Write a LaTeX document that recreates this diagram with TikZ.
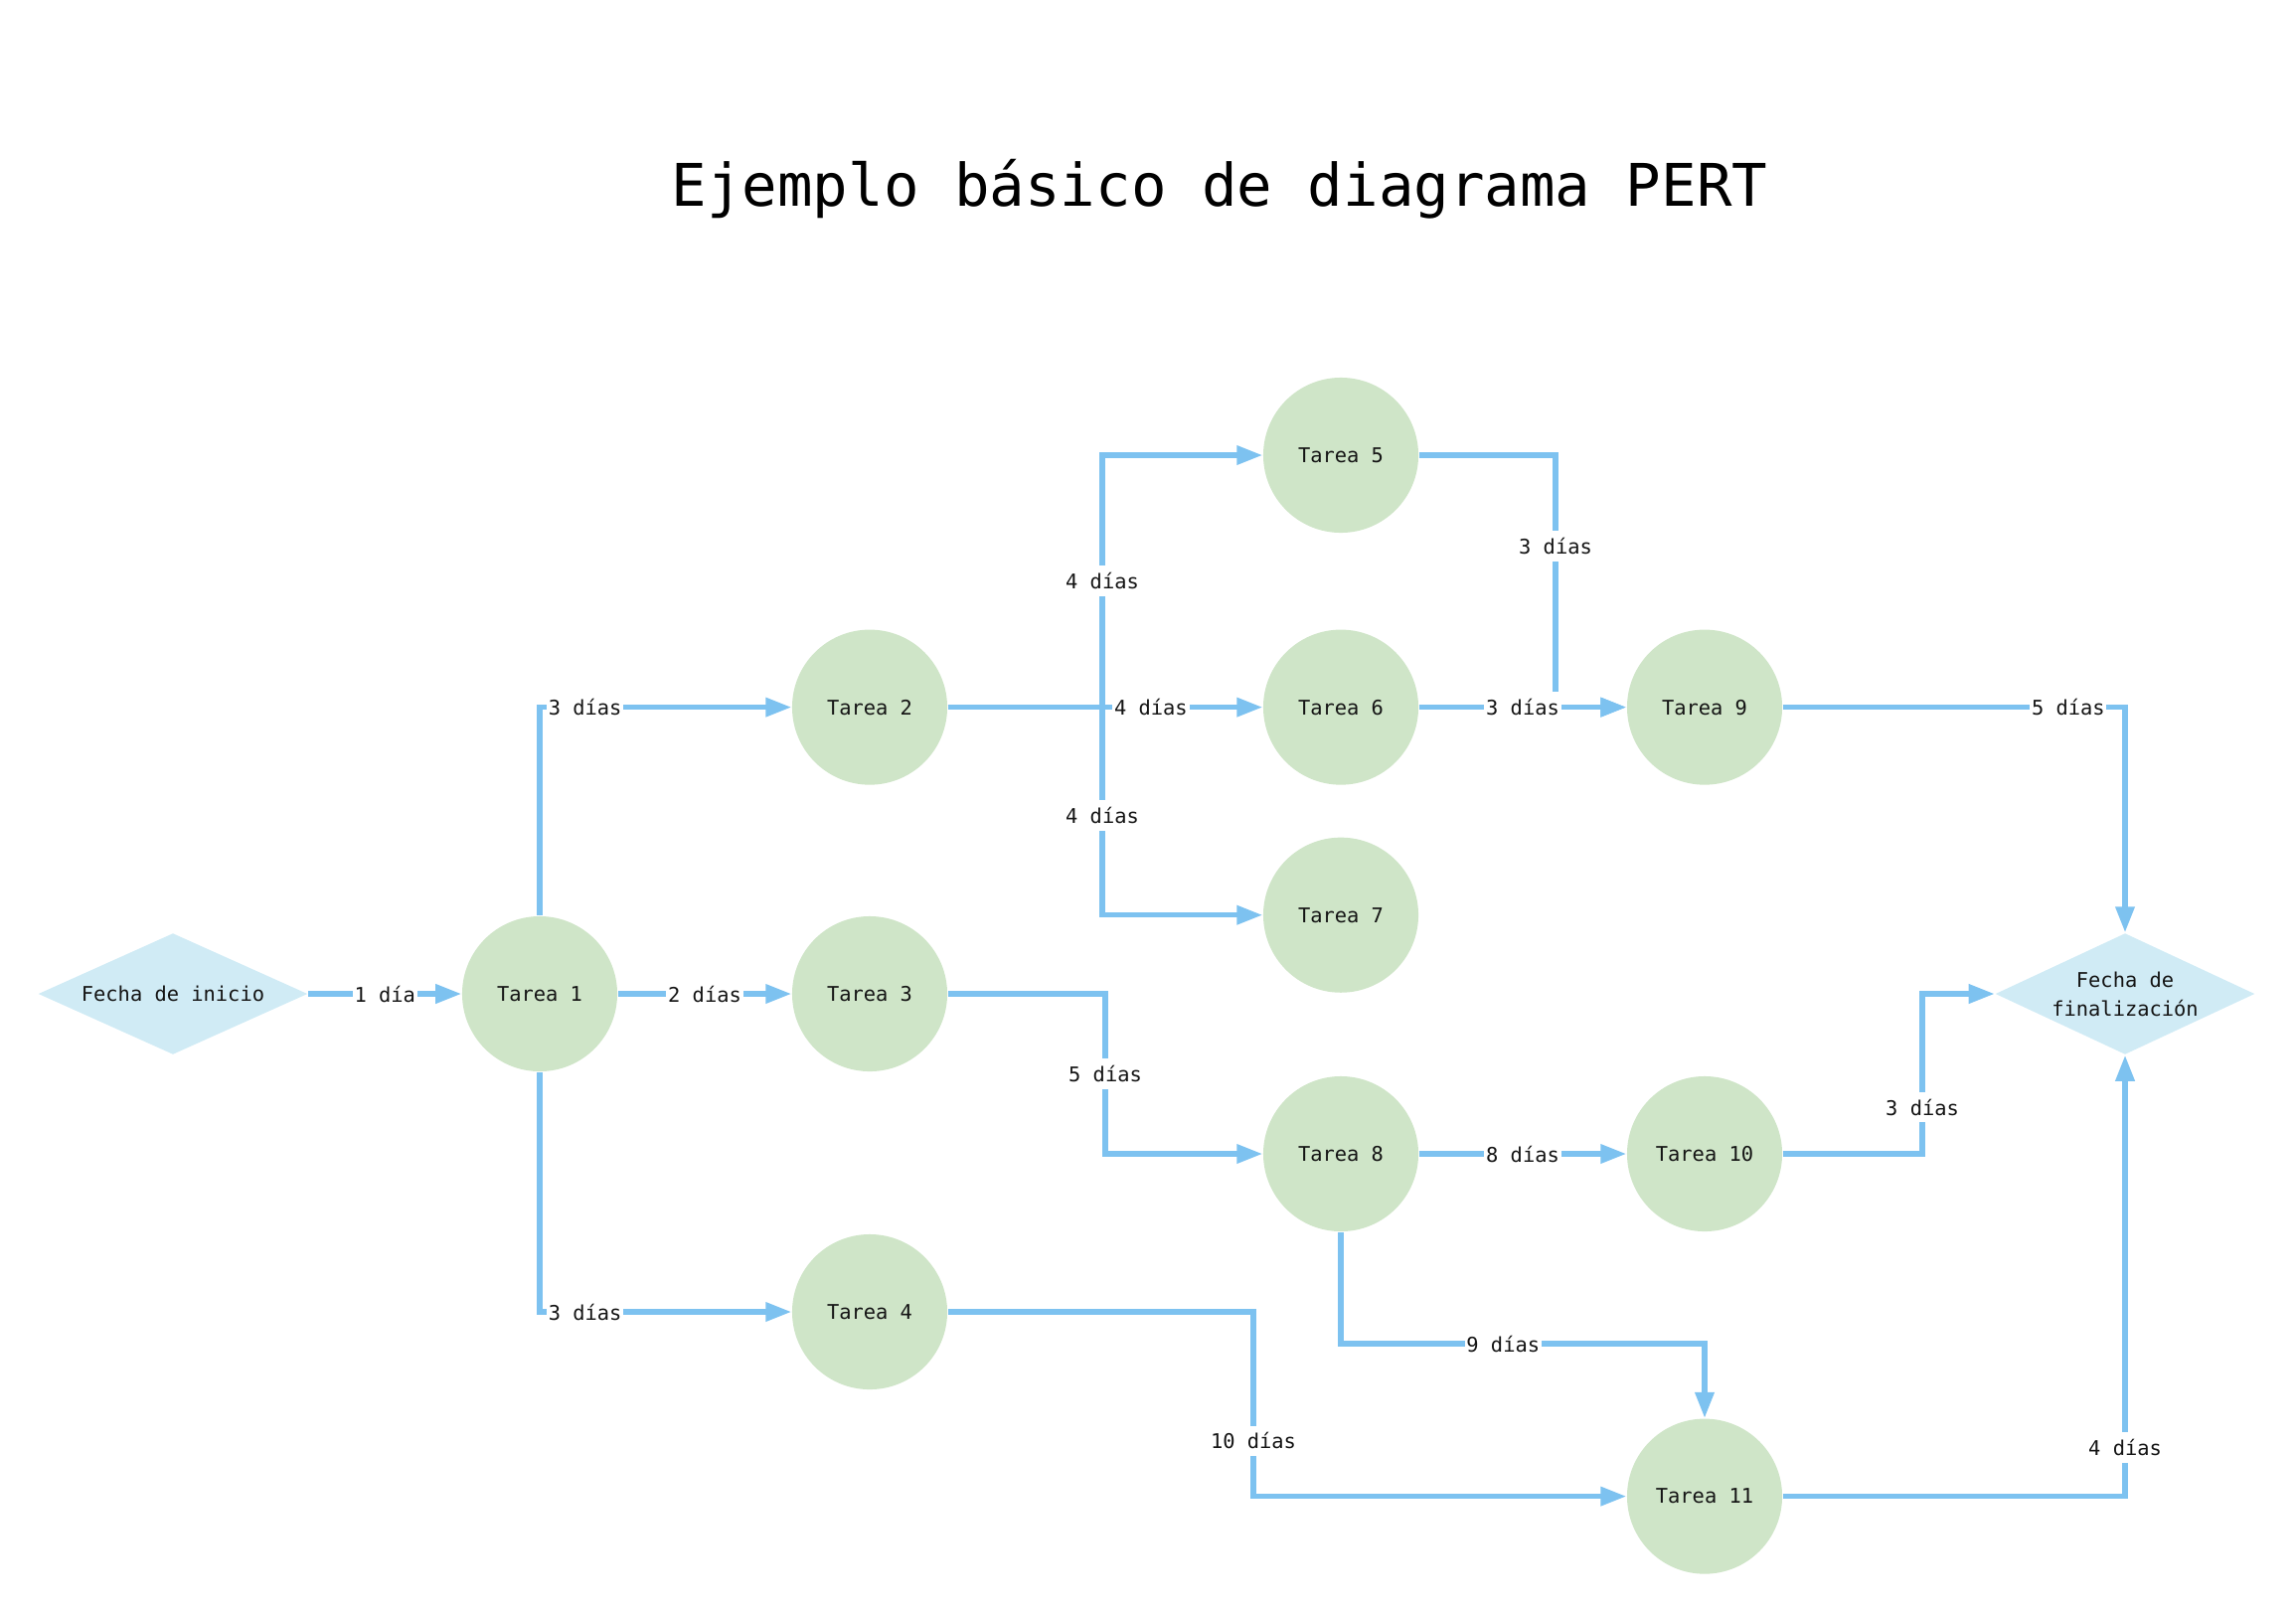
\documentclass[tikz,border=0pt]{standalone}
\usepackage{fontspec}
\usepackage{tikz}
\usetikzlibrary{shapes.geometric,arrows.meta}
\newfontfamily\pertfont{DejaVu Sans Mono}
\definecolor{verdetarea}{RGB}{207,229,200}
\definecolor{azulfecha}{RGB}{208,235,245}
\definecolor{azullinea}{RGB}{125,194,240}
\definecolor{textoosc}{RGB}{20,20,20}

\begin{document}
\begin{tikzpicture}[x=0.01cm, y=-0.01cm, >={Triangle[length=2.6mm, width=1.85mm]}, line join=miter]

    % Estilos de los nodos y flechas
    \tikzset{tarea/.style={circle, fill=verdetarea, minimum size=1.56cm, inner sep=0pt, text=textoosc, font=\pertfont\fontsize{5.8}{7}\selectfont}}
    \tikzset{fecha/.style={diamond, fill=azulfecha, aspect=2.2, minimum width=2.71cm, minimum height=1.22cm, inner sep=0pt, align=center, text=textoosc, font=\pertfont\fontsize{5.8}{8.3}\selectfont}}
    \tikzset{flecha/.style={->, draw=azullinea, line width=1.5pt}}
    \tikzset{dias/.style={fill=white, inner xsep=0.5pt, inner ysep=2pt, text=textoosc, font=\pertfont\fontsize{5.8}{7}\selectfont}}

    \useasboundingbox (0,0) rectangle (2310,1621);

    % Titulo
    \node[anchor=base, text=black, font=\pertfont\fontsize{16.8}{20}\selectfont] (titulo) at (1227,207) {Ejemplo básico de diagrama PERT};

    % Fechas (inicio y fin)
    \node[fecha] (inicio) at (174,1000) {Fecha de inicio};
    \node[fecha, minimum width=2.61cm] (fin) at (2138,1000) {Fecha de\\finalización};

    % Tareas
    \node[tarea] (t1) at (543,1000) {Tarea 1};
    \node[tarea] (t2) at (875,711.6) {Tarea 2};
    \node[tarea] (t3) at (875,1000) {Tarea 3};
    \node[tarea] (t4) at (875,1320) {Tarea 4};
    \node[tarea] (t5) at (1349,458) {Tarea 5};
    \node[tarea] (t6) at (1349,711.6) {Tarea 6};
    \node[tarea] (t7) at (1349,920.7) {Tarea 7};
    \node[tarea] (t8) at (1349,1161) {Tarea 8};
    \node[tarea] (t9) at (1715,711.6) {Tarea 9};
    \node[tarea] (t10) at (1715,1161) {Tarea 10};
    \node[tarea] (t11) at (1715,1505.6) {Tarea 11};

    % Puntos de quiebre de las flechas
    \coordinate (nudo2) at (1109,711.6);
    \coordinate (nudo3) at (1112,1000);
    \coordinate (nudo4) at (1261,1320);
    \coordinate (nudo5) at (1565,711.6);
    \coordinate (nudo8) at (1349,1352);
    \coordinate (nudo10) at (1934,1161);

    % Flechas desde el inicio y la tarea 1
    \draw[flecha] (inicio) -- node[dias]{1 día} (t1);
    \draw[flecha] (t1.north) |- node[dias, pos=0.59]{3 días} (t2.west);
    \draw[flecha] (t1) -- node[dias]{2 días} (t3);
    \draw[flecha] (t1.south) |- node[dias, pos=0.59]{3 días} (t4.west);

    % Flechas desde la tarea 2
    \draw[flecha] (t2.east) -- (nudo2) |- node[dias, pos=0.25]{4 días} (t5.west);
    \draw[flecha] (t2.east) -- (nudo2) |- node[dias, pos=0.26]{4 días} (t7.west);
    \draw[flecha] (t2) -- node[dias, pos=0.645]{4 días} (t6);

    % Hacia la tarea 9 y el fin
    \draw[flecha] (t5.east) -| node[dias, pos=0.68]{3 días} (nudo5) -- (t9.west);
    \draw[flecha] (t6) -- node[dias]{3 días} (t9);
    \draw[flecha] (t9.east) -| node[dias, pos=0.417]{5 días} (fin.north);

    % Rama inferior
    \draw[flecha] (t3.east) -- (nudo3) |- node[dias, pos=0.25]{5 días} (t8.west);
    \draw[flecha] (t8) -- node[dias]{8 días} (t10);
    \draw[flecha] (t10.east) -- (nudo10) |- node[dias, pos=0.146]{3 días} (fin.west);
    \draw[flecha] (t8.south) -- (nudo8) -| node[dias, pos=0.223]{9 días} (t11.north);
    \draw[flecha] (t4.east) -- (nudo4) |- node[dias, pos=0.35]{10 días} (t11.west);
    \draw[flecha] (t11.east) -| node[dias, pos=0.555]{4 días} (fin.south);

\end{tikzpicture}
\end{document}
